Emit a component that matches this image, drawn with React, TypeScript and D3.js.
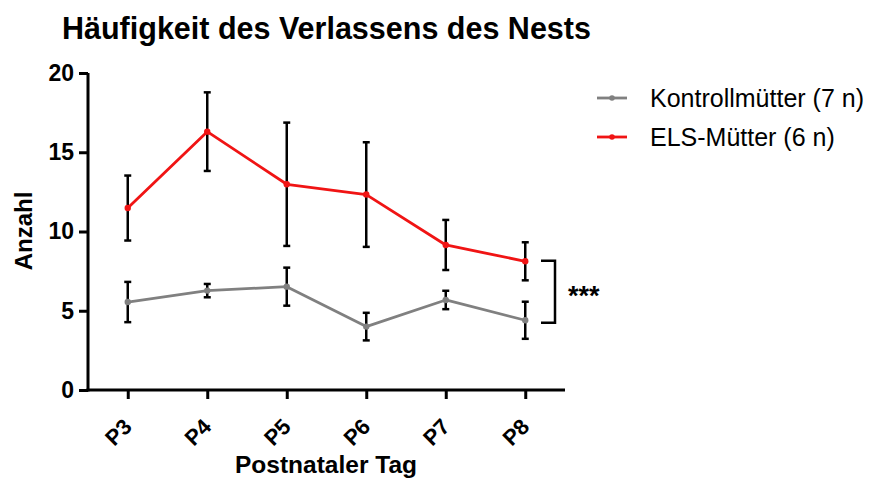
import React, { useEffect, useRef } from 'react'
import * as d3 from 'd3'

const days = ['P3', 'P4', 'P5', 'P6', 'P7', 'P8'];
const controlMean = [5.55, 6.27, 6.52, 4.0, 5.68, 4.4];
const controlErr = [1.27, 0.42, 1.2, 0.87, 0.58, 1.17];
const elsMean = [11.48, 16.3, 12.98, 12.33, 9.15, 8.12];
const elsErr = [2.05, 2.48, 3.89, 3.3, 1.58, 1.2];
const yTicks = [0, 5, 10, 15, 20];
const seriesNames = ['Kontrollmütter (7 n)', 'ELS-Mütter (6 n)'];
const bracketRange = [8.15, 4.25];
const significance = '***';

const FONT = '"Liberation Sans", Arial, Helvetica, sans-serif';
const GREY = '#808080';
const RED = '#f01414';

export default function App() {
  const svgRef = useRef<SVGSVGElement>(null);

  useEffect(() => {
    const svg = d3.select(svgRef.current);
    svg.selectAll('*').remove();

    const x = d3.scalePoint<string>().domain(days).range([88, 565]).padding(0.5);
    const y = d3.scaleLinear().domain([0, 20]).range([390, 73]);

    // title
    svg.append('text')
      .attr('x', 62).attr('y', 39)
      .attr('font-family', FONT).attr('font-weight', 'bold').attr('font-size', 30.5)
      .text('Häufigkeit des Verlassens des Nests');

    // y axis
    const yAxis = svg.append('g').attr('transform', 'translate(88,0)')
      .call(d3.axisLeft(y).tickValues(yTicks).tickSize(9).tickPadding(5));
    yAxis.select('.domain').attr('stroke-width', 3).attr('d', `M0,${y(20)}V${y(0) + 1.5}`);
    yAxis.selectAll('.tick line').attr('stroke-width', 3);
    yAxis.selectAll('.tick text')
      .attr('font-family', FONT).attr('font-weight', 'bold').attr('font-size', 23).attr('fill', '#000');

    // x axis
    const xAxis = svg.append('g').attr('transform', 'translate(0,390)')
      .call(d3.axisBottom(x).tickSize(9));
    xAxis.select('.domain').attr('stroke-width', 3).attr('d', 'M86.5,0H565');
    xAxis.selectAll('.tick line').attr('stroke-width', 3);
    xAxis.selectAll('.tick text')
      .attr('font-family', FONT).attr('font-weight', 'bold').attr('font-size', 22).attr('fill', '#000')
      .attr('text-anchor', 'end').attr('dy', 0).attr('y', 0)
      .attr('transform', 'translate(5,38) rotate(-45)');

    // axis titles
    svg.append('text')
      .attr('transform', 'translate(32,231) rotate(-90)')
      .attr('text-anchor', 'middle')
      .attr('font-family', FONT).attr('font-weight', 'bold').attr('font-size', 24)
      .text('Anzahl');
    svg.append('text')
      .attr('x', 326).attr('y', 473)
      .attr('text-anchor', 'middle')
      .attr('font-family', FONT).attr('font-weight', 'bold').attr('font-size', 24.5)
      .text('Postnataler Tag');

    const series = [
      { mean: controlMean, err: controlErr, color: GREY },
      { mean: elsMean, err: elsErr, color: RED },
    ];

    // error bars
    series.forEach(s => {
      const g = svg.append('g').attr('stroke', '#000').attr('stroke-width', 2.5);
      days.forEach((d, i) => {
        const cx = x(d)!;
        const top = y(s.mean[i] + s.err[i]);
        const bot = y(s.mean[i] - s.err[i]);
        g.append('line').attr('x1', cx).attr('x2', cx).attr('y1', top).attr('y2', bot);
        g.append('line').attr('x1', cx - 3.5).attr('x2', cx + 3.5).attr('y1', top).attr('y2', top);
        g.append('line').attr('x1', cx - 3.5).attr('x2', cx + 3.5).attr('y1', bot).attr('y2', bot);
      });
    });

    // lines + points
    const line = d3.line<number>().x((_, i) => x(days[i])!).y(v => y(v));
    series.forEach(s => {
      svg.append('path').datum(s.mean)
        .attr('fill', 'none').attr('stroke', s.color).attr('stroke-width', 2.8)
        .attr('stroke-linejoin', 'round').attr('d', line);
      svg.append('g').selectAll('circle').data(s.mean).join('circle')
        .attr('cx', (_, i) => x(days[i])!).attr('cy', v => y(v)).attr('r', 3.2)
        .attr('fill', s.color);
    });

    // significance bracket
    const bx0 = 541, bx1 = 555;
    const by0 = y(bracketRange[0]), by1 = y(bracketRange[1]);
    svg.append('path')
      .attr('d', `M${bx0},${by0}H${bx1}V${by1}H${bx0}`)
      .attr('fill', 'none').attr('stroke', '#000').attr('stroke-width', 2.5);
    svg.append('text')
      .attr('x', 568).attr('y', (by0 + by1) / 2 + 13)
      .attr('font-family', FONT).attr('font-weight', 'bold').attr('font-size', 27)
      .text(significance);

    // legend
    const legend = svg.append('g');
    series.forEach((s, i) => {
      const ly = 98 + i * 39;
      legend.append('line').attr('x1', 597).attr('x2', 627).attr('y1', ly).attr('y2', ly)
        .attr('stroke', s.color).attr('stroke-width', 2.8);
      legend.append('circle').attr('cx', 612).attr('cy', ly).attr('r', 2.8).attr('fill', s.color);
      legend.append('text').attr('x', 650).attr('y', ly + 9)
        .attr('font-family', FONT).attr('font-size', 25)
        .text(seriesNames[i]);
    });
  }, []);

  return (
    <svg ref={svgRef} width={872} height={478}
      style={{ position: 'fixed', left: 0, top: 0, display: 'block', background: '#fff' }} />
  );
}
